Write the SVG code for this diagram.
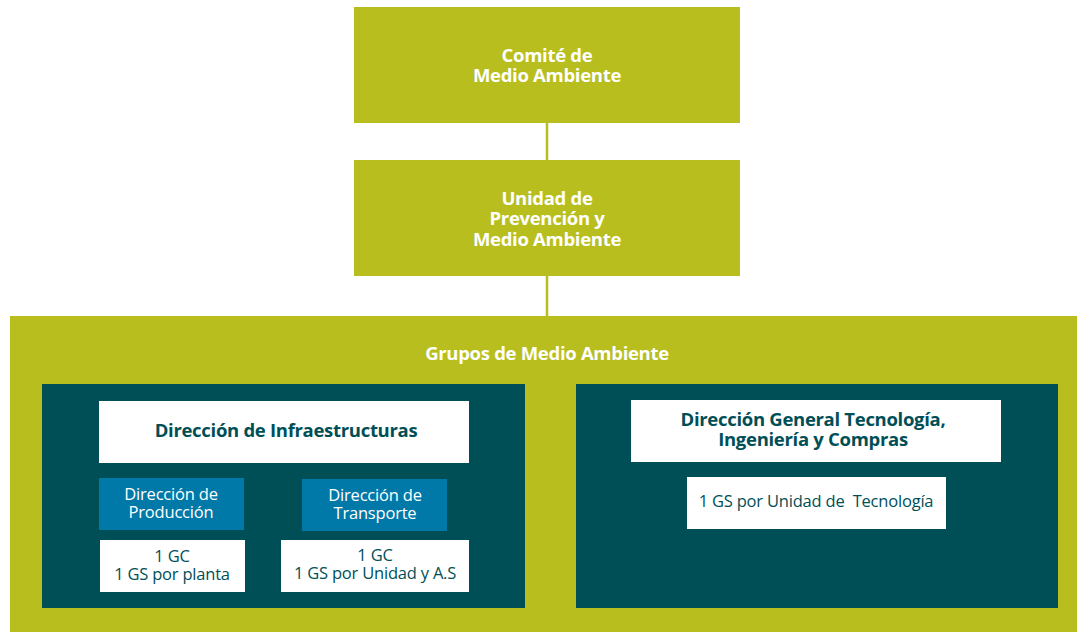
<svg xmlns="http://www.w3.org/2000/svg" width="1077" height="633" viewBox="0 0 1077 633">
<style>
.g{fill:#b8be1e}
.d{fill:#004f57}
.b{fill:#0079a8}
.w{fill:#ffffff}
text{font-family:"Open Sans","Noto Sans","Liberation Sans",sans-serif;text-anchor:middle}
.tw{fill:#ffffff;font-weight:bold;font-size:18.5px;letter-spacing:-0.3px}
.tb{fill:#004f57;font-weight:bold;font-size:18.5px;letter-spacing:-0.3px}
.tl{fill:#ffffff;font-size:16.5px;letter-spacing:-0.2px}
.tr{fill:#004f57;font-size:16.5px;letter-spacing:-0.2px}
.cg{stroke:#b8be1e;stroke-width:2.5;fill:none}
.cw{stroke:#ffffff;stroke-width:2.5;fill:none}
</style>
<rect width="1077" height="633" fill="#ffffff"/>
<g id="connectors">
<line class="cg" x1="547" y1="123" x2="547" y2="160"/>
<line class="cg" x1="547" y1="276" x2="547" y2="316"/>
<line class="cw" x1="171" y1="530" x2="171" y2="540"/>
<line class="cw" x1="373" y1="531" x2="373" y2="540"/>
<line class="cw" x1="816" y1="462" x2="816" y2="477"/>
</g>
<g id="comite">
<rect class="g" x="354" y="7" width="386" height="116"/>
<text class="tw" x="547" y="62">Comité de</text>
<text class="tw" x="547" y="82">Medio Ambiente</text>
</g>
<g id="unidad">
<rect class="g" x="354" y="160" width="386" height="116"/>
<text class="tw" x="547" y="205">Unidad de</text>
<text class="tw" x="547" y="225">Prevención y</text>
<text class="tw" x="547" y="246">Medio Ambiente</text>
</g>
<g id="grupos">
<rect class="g" x="10" y="316" width="1067" height="316"/>
<text class="tw" x="547" y="360">Grupos de Medio Ambiente</text>
</g>
<g id="panel-infra">
<rect class="d" x="42" y="384" width="483" height="224"/>
</g>
<g id="panel-tec">
<rect class="d" x="576" y="384" width="482" height="224"/>
</g>
<g id="infraestructuras">
<rect class="w" x="99" y="401" width="370" height="62"/>
<text class="tb" x="286" y="437">Dirección de Infraestructuras</text>
</g>
<g id="produccion">
<rect class="b" x="99" y="478" width="145" height="52"/>
<text class="tl" x="171" y="500">Dirección de</text>
<text class="tl" x="171" y="518">Producción</text>
</g>
<g id="transporte">
<rect class="b" x="302" y="479" width="145" height="52"/>
<text class="tl" x="375" y="501">Dirección de</text>
<text class="tl" x="375" y="519">Transporte</text>
</g>
<g id="planta">
<rect class="w" x="100" y="540" width="145" height="52"/>
<text class="tr" x="172" y="562">1 GC</text>
<text class="tr" x="172" y="580">1 GS por planta</text>
</g>
<g id="unidad-as">
<rect class="w" x="281" y="540" width="188" height="52"/>
<text class="tr" x="375" y="561">1 GC</text>
<text class="tr" x="375" y="579">1 GS por Unidad y A.S</text>
</g>
<g id="tecnologia">
<rect class="w" x="631" y="400" width="370" height="62"/>
<text class="tb" x="813" y="426">Dirección General Tecnología,</text>
<text class="tb" x="813" y="446">Ingeniería y Compras</text>
</g>
<g id="gs-tecnologia">
<rect class="w" x="687" y="477" width="259" height="52"/>
<text class="tr" x="816" y="507" style="white-space:pre">1 GS por Unidad de  Tecnología</text>
</g>
</svg>
